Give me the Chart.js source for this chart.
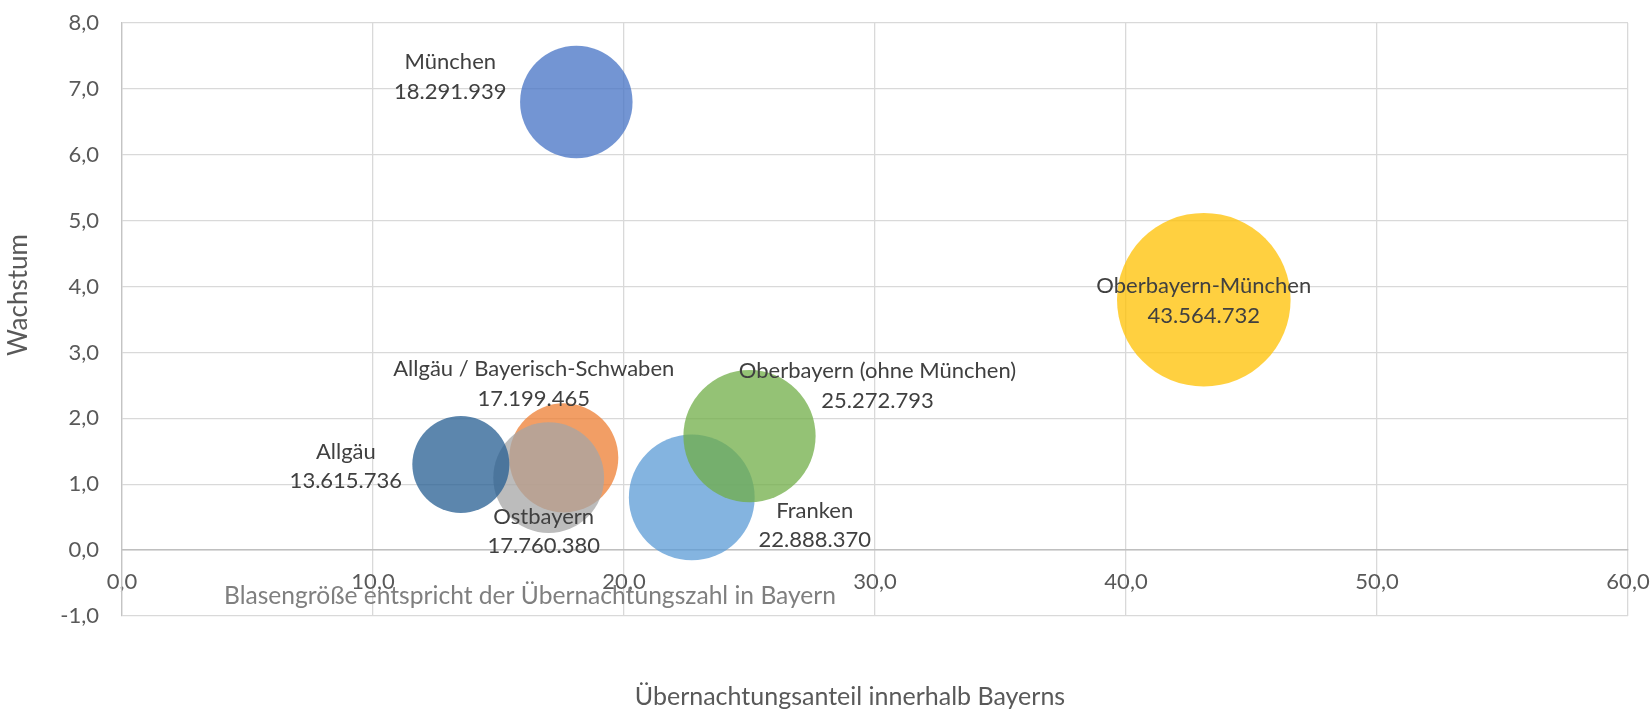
<!DOCTYPE html>
<html>
<head>
<meta charset="utf-8">
<script src="https://cdn.jsdelivr.net/npm/chart.js@4.4.0/dist/chart.umd.min.js"></script>
<style>
    html, body { margin: 0; padding: 0; background: #ffffff; }
    #wrap { width: 1652px; height: 710px; }
</style>
</head>
<body>
<div id="wrap"><canvas id="bubbleChart" width="1652" height="710"></canvas></div>
<script>
// regions in drawing order (later ones are painted on top)
const regions = ['München', 'Franken', 'Oberbayern (ohne München)', 'Allgäu / Bayerisch-Schwaben', 'Ostbayern', 'Allgäu', 'Oberbayern-München'];
const shares = [18.1, 22.7, 25.0, 17.6, 17.0, 13.5, 43.1];
const growth = [6.8, 0.8, 1.73, 1.4, 1.1, 1.3, 3.8];
const overnights = [18291939, 22888370, 25272793, 17199465, 17760380, 13615736, 43564732];

const xTicks = [0, 10, 20, 30, 40, 50, 60];
const yTicks = [-1, 0, 1, 2, 3, 4, 5, 6, 7, 8];

const xTitle = 'Übernachtungsanteil innerhalb Bayerns';
const yTitle = 'Wachstum';
const note = 'Blasengröße entspricht der Übernachtungszahl in Bayern';

// styling
const colors = ['#4472C4', '#5B9BD5', '#70AD47', '#ED7D31', '#A5A5A5', '#255E91', '#FFC000'];
const labelOffsets = [[-126, -25], [123, 28], [128, -50], [-30, -74], [-5, 54], [-115, 2], [0, 1]];
const bubbleScale = 0.01315;
const FONT = 'Lato, "Open Sans", sans-serif';

function formatNumber(n) {
    return String(n).replace(/\B(?=(\d{3})+(?!\d))/g, '.');
}

function formatTick(v) {
    return v.toFixed(1).replace('.', ',');
}

function hexToRgba(hex, a) {
    const r = parseInt(hex.slice(1, 3), 16);
    const g = parseInt(hex.slice(3, 5), 16);
    const b = parseInt(hex.slice(5, 7), 16);
    return 'rgba(' + r + ',' + g + ',' + b + ',' + a + ')';
}

// keep the plot area exactly where the layout padding puts it
function noScalePadding(s) {
    s.paddingTop = 0;
    s.paddingBottom = 0;
    s.paddingLeft = 0;
    s.paddingRight = 0;
}

const points = [];
for (let i = 0; i < regions.length; i++) {
    points.push({ x: shares[i], y: growth[i], r: Math.sqrt(overnights[i]) * bubbleScale });
}

const overlay = {
    id: 'overlay',
    afterDatasetsDraw(chart) {
        const ctx = chart.ctx;
        const xs = chart.scales.x;
        const ys = chart.scales.y;
        ctx.save();
        ctx.textAlign = 'center';
        ctx.textBaseline = 'middle';

        ctx.font = '22px ' + FONT;
        ctx.fillStyle = '#404040';
        for (let i = 0; i < regions.length; i++) {
            const px = xs.getPixelForValue(shares[i]) + labelOffsets[i][0];
            const py = ys.getPixelForValue(growth[i]) + labelOffsets[i][1];
            ctx.fillText(regions[i], px, py - 14.75);
            ctx.fillText(formatNumber(overnights[i]), px, py + 14.75);
        }

        ctx.font = '25px ' + FONT;
        ctx.fillStyle = '#595959';
        ctx.fillText(xTitle, 850, 697);

        ctx.save();
        ctx.translate(19, 295);
        ctx.rotate(-Math.PI / 2);
        ctx.font = '26px ' + FONT;
        ctx.fillText(yTitle, 0, 0);
        ctx.restore();

        ctx.font = '24.6px ' + FONT;
        ctx.textAlign = 'left';
        ctx.fillStyle = '#7f7f7f';
        ctx.fillText(note, 224, 596);
        ctx.restore();
    }
};

new Chart(document.getElementById('bubbleChart'), {
    type: 'bubble',
    data: {
        datasets: [{
            data: points,
            backgroundColor: colors.map(function (c) { return hexToRgba(c, 0.75); }),
            borderWidth: 0
        }]
    },
    options: {
        responsive: false,
        devicePixelRatio: 1,
        animation: false,
        events: [],
        layout: { autoPadding: false, padding: { left: 0, top: 23, right: 24, bottom: 94 } },
        plugins: { legend: { display: false }, tooltip: { enabled: false } },
        scales: {
            x: {
                type: 'linear',
                position: { y: 0 },
                min: xTicks[0],
                max: xTicks[xTicks.length - 1],
                afterBuildTicks: function (s) { s.ticks = xTicks.map(function (v) { return { value: v }; }); },
                afterFit: noScalePadding,
                ticks: {
                    padding: 19,
                    color: '#595959',
                    font: { family: FONT, size: 22 },
                    maxRotation: 0,
                    callback: formatTick
                },
                grid: { color: '#d9d9d9', lineWidth: 1.3, drawTicks: false },
                border: { color: '#bfbfbf', width: 1.5 }
            },
            y: {
                type: 'linear',
                position: 'left',
                min: yTicks[0],
                max: yTicks[yTicks.length - 1],
                afterBuildTicks: function (s) { s.ticks = yTicks.map(function (v) { return { value: v }; }); },
                afterFit: function (s) { s.width = 122; noScalePadding(s); },
                ticks: {
                    padding: 23,
                    color: '#595959',
                    font: { family: FONT, size: 22 },
                    callback: formatTick
                },
                grid: { color: '#d9d9d9', lineWidth: 1.3, drawTicks: false },
                border: { color: '#c4c4c4', width: 1.3 }
            }
        }
    },
    plugins: [overlay]
});
</script>
</body>
</html>
